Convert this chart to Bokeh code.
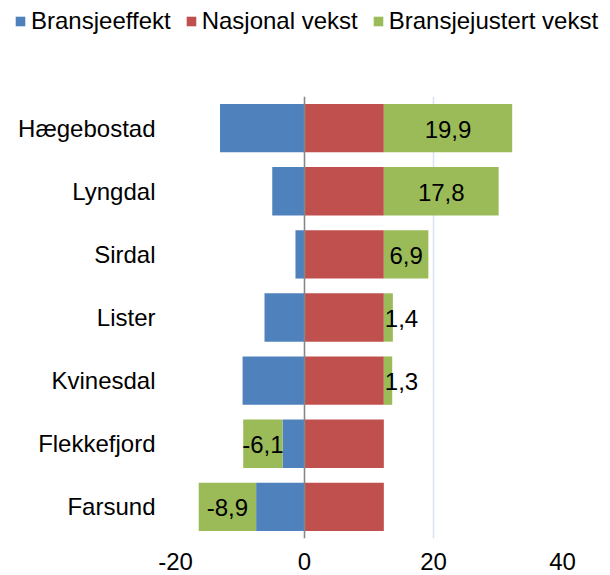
from bokeh.plotting import figure
from bokeh.models import (ColumnDataSource, Range1d, FactorRange, FixedTicker,
                          Legend, LegendItem, Span)
from bokeh.layouts import column
from bokeh.embed import file_html
from bokeh.resources import INLINE
from bokeh.core.properties import value

# ---- data ----
categories = ["Hægebostad", "Lyngdal", "Sirdal", "Lister", "Kvinesdal", "Flekkefjord", "Farsund"]
bransjeeffekt = [-13.1, -5.0, -1.4, -6.2, -9.6, -3.4, -7.5]
nasjonal_vekst = [12.3, 12.3, 12.3, 12.3, 12.3, 12.3, 12.3]
bransjejustert = [19.9, 17.8, 6.9, 1.4, 1.3, -6.1, -8.9]
series_names = ["Bransjeeffekt", "Nasjonal vekst", "Bransjejustert vekst"]
x_ticks = [-20, 0, 20, 40]
x_tick_labels = ["-20", "0", "20", "40"]

colors = ["#4F81BD", "#C0504D", "#9BBB59"]
FONT = "Liberation Sans"

# ---- stacked sources (positives and negatives stacked separately) ----
pos_base = [0.0] * len(categories)
neg_base = [0.0] * len(categories)
sources = []
for vals in [bransjeeffekt, nasjonal_vekst, bransjejustert]:
    lefts, rights = [], []
    for i, v in enumerate(vals):
        if v >= 0:
            lefts.append(pos_base[i]); rights.append(pos_base[i] + v); pos_base[i] += v
        else:
            rights.append(neg_base[i]); lefts.append(neg_base[i] + v); neg_base[i] += v
    sources.append(ColumnDataSource(dict(y=categories, left=lefts, right=rights, v=vals)))

# ---- main chart ----
p = figure(width=610, height=535, output_backend="svg", toolbar_location=None,
           x_range=Range1d(-20, 40), y_range=FactorRange(*list(reversed(categories))),
           min_border_left=175, min_border_right=48, min_border_top=56, min_border_bottom=37)
p.frame_align = False
p.outline_line_color = None
p.background_fill_color = "white"

for src, col in zip(sources, colors):
    p.hbar(y="y", left="left", right="right", height=0.766, source=src,
           fill_color=col, line_color=None)

# data labels for the green series
gd = sources[2].data
big = dict(x=[], y=[], t=[])
small = dict(x=[], y=[], t=[])
for i, v in enumerate(bransjejustert):
    lbl = f"{v:.1f}".replace(".", ",")
    if abs(v) < 3:
        small["x"].append(gd["left"][i]); small["y"].append(categories[i]); small["t"].append(lbl)
    else:
        big["x"].append((gd["left"][i] + gd["right"][i]) / 2); big["y"].append(categories[i]); big["t"].append(lbl)
p.text(x="x", y="y", text="t", source=ColumnDataSource(big), text_align="center",
       text_baseline="middle", text_font=value(FONT), text_font_size="24px",
       text_color="black", y_offset=1)
p.text(x="x", y="y", text="t", source=ColumnDataSource(small), text_align="left",
       text_baseline="middle", text_font=value(FONT), text_font_size="24px",
       text_color="black", x_offset=1, y_offset=1)

p.add_layout(Span(location=0, dimension="height", line_color="#868686", line_width=1.5))

p.xaxis.ticker = FixedTicker(ticks=x_ticks)
p.xaxis.major_label_overrides = {t: l for t, l in zip(x_ticks, x_tick_labels)}
for ax in (p.xaxis, p.yaxis):
    ax.axis_line_color = None
    ax.major_tick_line_color = None
    ax.minor_tick_line_color = None
    ax.major_tick_out = 0
    ax.major_tick_in = 0
    ax.major_label_text_font = FONT
    ax.major_label_text_font_size = "24px"
    ax.major_label_text_color = "black"
p.xaxis.major_label_standoff = 14
p.yaxis.major_label_standoff = 20
p.xgrid.grid_line_color = "#D9E3F0"
p.xgrid.grid_line_width = 1.5
p.ygrid.grid_line_color = None

# ---- legend strip ----
lg = figure(width=610, height=40, output_backend="svg", toolbar_location=None,
            x_range=Range1d(-20, 40), y_range=FactorRange(*categories),
            x_axis_location=None, y_axis_location=None,
            min_border_left=0, min_border_right=0, min_border_top=0, min_border_bottom=0)
lg.frame_align = False
lg.outline_line_color = None
lg.xgrid.visible = False
lg.ygrid.visible = False
items = []
for name, src, col in zip(series_names, sources, colors):
    r = lg.hbar(y="y", left="left", right="right", height=0.5, source=src,
                fill_color=col, line_color=None, visible=False)
    items.append(LegendItem(label=name, renderers=[r]))
legend = Legend(items=items, orientation="horizontal", location=(14, 5),
                glyph_width=12, glyph_height=12, label_standoff=5, spacing=14,
                padding=0, margin=0, border_line_color=None, background_fill_alpha=0,
                label_text_font=FONT, label_text_font_size="24px", label_text_color="black")
lg.add_layout(legend)

layout = column(lg, p, spacing=0)
open("out.html", "w").write(file_html(layout, INLINE))
